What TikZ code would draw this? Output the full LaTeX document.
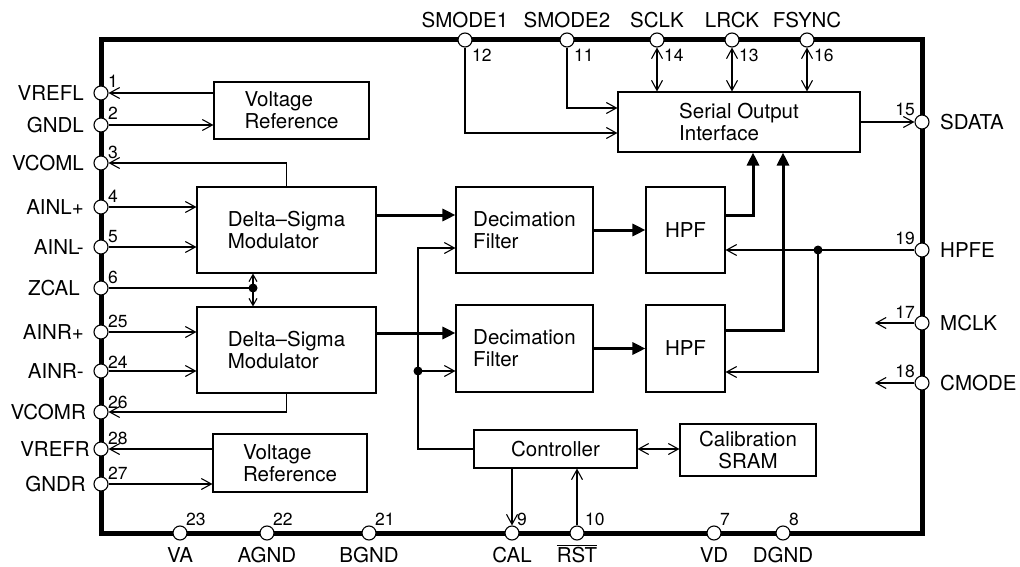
\documentclass[tikz,border=0pt]{standalone}
\usepackage{fontspec}
\setmainfont{TeX Gyre Heros}
\usetikzlibrary{arrows.meta}

\begin{document}
\begin{tikzpicture}[x=1pt,y=-1pt,
  wire/.style={line width=1.1pt},
  bus/.style={line width=3pt,-{Triangle[length=13pt,width=12pt]}},
  block/.style={draw,line width=1.1pt,inner sep=0pt,align=left,font=\fontsize{20.5}{22}\selectfont},
  pin/.style={circle,draw,fill=white,line width=1.1pt,inner sep=0pt,minimum size=14pt},
  pinlabel/.style={inner sep=0pt,font=\fontsize{20.5}{22}\selectfont},
  pinnum/.style={inner sep=0pt,font=\fontsize{17.5}{18}\selectfont},
  >={Straight Barb[length=10pt,width=11pt]}]
\useasboundingbox (0,0) rectangle (1020,567);
% chip outline
\draw[line width=5pt] (101,40) rectangle (922,533);

% blocks
\node[block,minimum width=155pt,minimum height=57pt] (vrefL) at (291.5,110.5) {Voltage\\Reference};
\node[block,minimum width=179pt,minimum height=86pt] (dsmL) at (286.5,230) {Delta--Sigma\\Modulator};
\node[block,minimum width=179pt,minimum height=86pt] (dsmR) at (286.5,350) {Delta--Sigma\\Modulator};
\node[block,minimum width=137pt,minimum height=86pt] (decL) at (524.5,230) {Decimation\\Filter};
\node[block,minimum width=137pt,minimum height=87pt] (decR) at (524.5,348.5) {Decimation\\Filter};
\node[block,minimum width=79pt,minimum height=86pt] (hpfL) at (685.5,230) {HPF};
\node[block,minimum width=79pt,minimum height=87pt] (hpfR) at (685.5,348.5) {HPF};
\node[block,minimum width=242pt,minimum height=60pt] (soi) at (739,122) {Serial Output\\Interface};
\node[block,minimum width=163pt,minimum height=38pt] (ctrl) at (555.5,449) {Controller};
\node[block,align=center,minimum width=136pt,minimum height=52pt] (sram) at (748,450) {Calibration\\SRAM};
\node[block,minimum width=154pt,minimum height=58pt] (vrefR) at (290,463) {Voltage\\Reference};

% left pins
\node[pin] (pVREFL) at (101,93) {}; \node[pinlabel,anchor=east] (lVREFL) at (84,93) {VREFL}; \node[pinnum,anchor=base west] (nVREFL) at (108,88) {1};
\node[pin] (pGNDL) at (101,125) {}; \node[pinlabel,anchor=east] (lGNDL) at (84,125) {GNDL}; \node[pinnum,anchor=base west] (nGNDL) at (108,120) {2};
\node[pin] (pVCOML) at (101,163) {}; \node[pinlabel,anchor=east] (lVCOML) at (84,163) {VCOML}; \node[pinnum,anchor=base west] (nVCOML) at (108,158) {3};
\node[pin] (pAINLp) at (101,207) {}; \node[pinlabel,anchor=east] (lAINLp) at (84,207) {AINL+}; \node[pinnum,anchor=base west] (nAINLp) at (108,202) {4};
\node[pin] (pAINLm) at (101,247) {}; \node[pinlabel,anchor=east] (lAINLm) at (84,247) {AINL-}; \node[pinnum,anchor=base west] (nAINLm) at (108,242) {5};
\node[pin] (pZCAL) at (101,288) {}; \node[pinlabel,anchor=east] (lZCAL) at (80,288) {ZCAL}; \node[pinnum,anchor=base west] (nZCAL) at (108,283) {6};
\node[pin] (pAINRp) at (101,332) {}; \node[pinlabel,anchor=east] (lAINRp) at (84,332) {AINR+}; \node[pinnum,anchor=base west] (nAINRp) at (108,327) {25};
\node[pin] (pAINRm) at (101,371) {}; \node[pinlabel,anchor=east] (lAINRm) at (84,371) {AINR-}; \node[pinnum,anchor=base west] (nAINRm) at (108,368) {24};
\node[pin] (pVCOMR) at (101,412) {}; \node[pinlabel,anchor=east] (lVCOMR) at (86,412) {VCOMR}; \node[pinnum,anchor=base west] (nVCOMR) at (108,408) {26};
\node[pin] (pVREFR) at (101,449) {}; \node[pinlabel,anchor=east] (lVREFR) at (90,449) {VREFR}; \node[pinnum,anchor=base west] (nVREFR) at (108,444) {28};
\node[pin] (pGNDR) at (101,484) {}; \node[pinlabel,anchor=east] (lGNDR) at (86,484) {GNDR}; \node[pinnum,anchor=base west] (nGNDR) at (108,479) {27};

% top pins
\node[pin] (pSMODEa) at (465,40) {}; \node[pinlabel,anchor=base] (lSMODEa) at (465,28) {SMODE1}; \node[pinnum,anchor=base west] (nSMODEa) at (472,62) {12};
\node[pin] (pSMODEb) at (567,40) {}; \node[pinlabel,anchor=base] (lSMODEb) at (567,28) {SMODE2}; \node[pinnum,anchor=base west] (nSMODEb) at (574,62) {11};
\node[pin] (pSCLK) at (657,40) {}; \node[pinlabel,anchor=base] (lSCLK) at (657,28) {SCLK}; \node[pinnum,anchor=base west] (nSCLK) at (664,62) {14};
\node[pin] (pLRCK) at (732,40) {}; \node[pinlabel,anchor=base] (lLRCK) at (732,28) {LRCK}; \node[pinnum,anchor=base west] (nLRCK) at (739,62) {13};
\node[pin] (pFSYNC) at (807,40) {}; \node[pinlabel,anchor=base] (lFSYNC) at (807,28) {FSYNC}; \node[pinnum,anchor=base west] (nFSYNC) at (814,62) {16};

% right pins
\node[pin] (pSDATA) at (922,122) {}; \node[pinlabel,anchor=west] (lSDATA) at (940,122) {SDATA}; \node[pinnum,anchor=base east] (nSDATA) at (915,116) {15};
\node[pin] (pHPFE) at (922,250) {}; \node[pinlabel,anchor=west] (lHPFE) at (940,250) {HPFE}; \node[pinnum,anchor=base east] (nHPFE) at (915,244) {19};
\node[pin] (pMCLK) at (922,323) {}; \node[pinlabel,anchor=west] (lMCLK) at (940,323) {MCLK}; \node[pinnum,anchor=base east] (nMCLK) at (915,318) {17};
\node[pin] (pCMODE) at (922,383) {}; \node[pinlabel,anchor=west] (lCMODE) at (940,383) {CMODE}; \node[pinnum,anchor=base east] (nCMODE) at (915,377) {18};

% bottom pins
\node[pin] (pVA) at (180,533) {}; \node[pinlabel,anchor=base] (lVA) at (180,562) {VA}; \node[pinnum,anchor=base west] (nVA) at (186,525) {23};
\node[pin] (pAGND) at (267,533) {}; \node[pinlabel,anchor=base] (lAGND) at (267,562) {AGND}; \node[pinnum,anchor=base west] (nAGND) at (273,525) {22};
\node[pin] (pBGND) at (369,533) {}; \node[pinlabel,anchor=base] (lBGND) at (369,562) {BGND}; \node[pinnum,anchor=base west] (nBGND) at (375,525) {21};
\node[pin] (pCAL) at (512,533) {}; \node[pinlabel,anchor=base] (lCAL) at (512,562) {CAL}; \node[pinnum,anchor=base west] (nCAL) at (517,525) {9};
\node[pin] (pRST) at (577,533) {}; \node[pinlabel,anchor=base] (lRST) at (577,562) {$\overline{\mbox{RST}}$}; \node[pinnum,anchor=base west] (nRST) at (585,525) {10};
\node[pin] (pVD) at (714,533) {}; \node[pinlabel,anchor=base] (lVD) at (714,562) {VD}; \node[pinnum,anchor=base west] (nVD) at (720,525) {7};
\node[pin] (pDGND) at (783,533) {}; \node[pinlabel,anchor=base] (lDGND) at (783,562) {DGND}; \node[pinnum,anchor=base west] (nDGND) at (789,525) {8};

% analog side
\draw[wire,->] (vrefL.west |- pVREFL) -- (pVREFL);
\draw[wire,->] (pGNDL) -- (pGNDL -| vrefL.west);
\draw[wire,->] (dsmL.north) |- (pVCOML);
\draw[wire,->] (pAINLp) -- (pAINLp -| dsmL.west);
\draw[wire,->] (pAINLm) -- (pAINLm -| dsmL.west);
\coordinate (zdot) at (253,288);
\draw[wire] (pZCAL) -- (zdot);
\draw[wire,{Straight Barb[length=7pt,width=8pt]}-{Straight Barb[length=7pt,width=8pt]}] (zdot |- dsmL.south) -- (zdot |- dsmR.north);
\fill (zdot) circle (4.5);
\draw[wire,->] (pAINRp) -- (pAINRp -| dsmR.west);
\draw[wire,->] (pAINRm) -- (pAINRm -| dsmR.west);
\draw[wire,->] (dsmR.south) |- (pVCOMR);
\draw[wire,->] (vrefR.west |- pVREFR) -- (pVREFR);
\draw[wire,->] (pGNDR) -- (pGNDR -| vrefR.west);

% data path
\draw[bus] (dsmL.east |- 0,215) -- (decL.west |- 0,215);
\draw[bus] (dsmR.east |- 0,333) -- (decR.west |- 0,333);
\draw[bus] (decL.east) -- (hpfL.west);
\draw[bus] (decR.east) -- (hpfR.west);
\draw[bus] (hpfL.east |- 0,215) -| (soi.south -| 753,0);
\draw[bus] (hpfR.east |- 0,330) -| (soi.south -| 783,0);
\draw[wire,->] (soi.east) -- (pSDATA);

% serial port control
\draw[wire,->] (pSMODEa) |- (soi.west |- 0,133);
\draw[wire,->] (pSMODEb) |- (soi.west |- 0,108);
\draw[wire,<->] (pSCLK) -- (pSCLK |- soi.north);
\draw[wire,<->] (pLRCK) -- (pLRCK |- soi.north);
\draw[wire,<->] (pFSYNC) -- (pFSYNC |- soi.north);

% high pass enable
\coordinate (hdot) at (818,250);
\draw[wire,->] (pHPFE) -- (pHPFE -| hpfL.east);
\draw[wire,->] (hdot) |- (hpfR.east |- 0,372);
\fill (hdot) circle (4.5);

% controller
\coordinate (cdot) at (418,371);
\draw[wire] (ctrl.west) -| (cdot);
\draw[wire,->] (cdot) -- (cdot -| decR.west);
\draw[wire,->] (cdot) |- (decL.west |- 0,248);
\fill (cdot) circle (4.5);
\draw[wire,<->] (ctrl.east) -- (ctrl.east -| sram.west);
\draw[wire,->] (ctrl.south -| pCAL) -- (pCAL);
\draw[wire,->] (pRST) -- (pRST |- ctrl.south);

% clock inputs
\coordinate (mclkEnd) at (875,323);
\coordinate (cmodeEnd) at (875,383);
\draw[wire,->] (pMCLK) -- (mclkEnd);
\draw[wire,->] (pCMODE) -- (cmodeEnd);
\end{tikzpicture}
\end{document}
